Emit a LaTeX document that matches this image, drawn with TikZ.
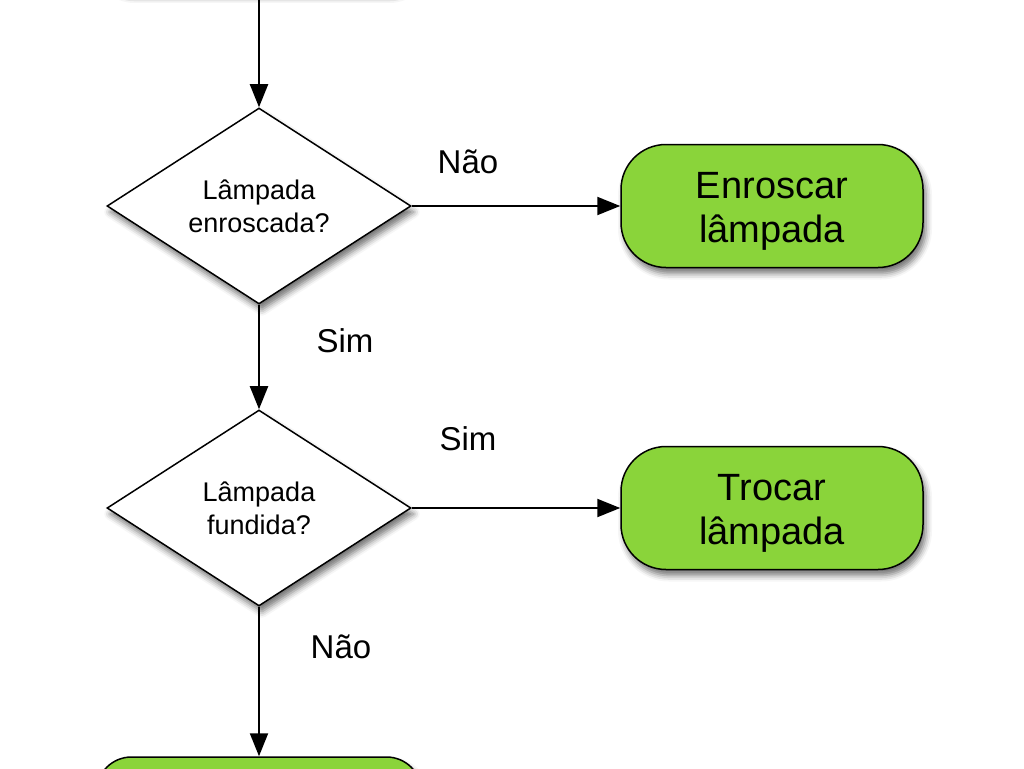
\documentclass[tikz,border=0pt]{standalone}
\usepackage{fontspec}
\setmainfont{Liberation Sans}
\usetikzlibrary{shapes.geometric,arrows.meta,shadows.blur}
\definecolor{boxgreen}{RGB}{138,212,58}
\newcommand{\twolines}[2]{\begin{tabular}{@{}c@{}}\rule{0pt}{43pt}#1\\#2\end{tabular}}
\begin{document}
\begin{tikzpicture}[x=1pt,y=-1pt,
  softshadow/.style={blur shadow={shadow xshift=3pt, shadow yshift=-6pt, shadow blur radius=6pt, shadow opacity=55}},
  decision/.style={diamond, draw, line width=1.5pt, fill=white, minimum width=304pt, minimum height=196pt, inner sep=0pt, aspect=1.55, align=center, font=\fontsize{27}{33}\selectfont, softshadow},
  action/.style={draw, line width=1.5pt, fill=boxgreen, rounded corners=45pt, minimum width=302pt, minimum height=123pt, font=\fontsize{38}{44}\selectfont, softshadow},
  conn/.style={line width=2pt, -{Triangle[length=23pt,width=18pt]}},
  lbl/.style={font=\fontsize{33}{38}\selectfont, inner sep=0pt}
]
\useasboundingbox (0,0) rectangle (1024,768);
\node[action, minimum width=325pt, minimum height=120pt, rounded corners=35pt] (top) at (259,-69) {};
\node[decision] (d1) at (259,206) {Lâmpada\\enroscada?};
\node[decision] (d2) at (259,508) {Lâmpada\\fundida?};
\node[action] (a1) at (772,206) {\twolines{Enroscar}{lâmpada}};
\node[action] (a2) at (772,508) {\twolines{Trocar}{lâmpada}};
\node[action, minimum width=325pt, minimum height=120pt, rounded corners=35pt] (bot) at (259,817) {};
\draw[conn] (top) -- (d1);
\draw[conn] (d1) -- (d2);
\draw[conn] (d2) -- (bot);
\draw[conn] (d1) -- (a1);
\draw[conn] (d2) -- (a2);
\node[lbl] (l1) at (468,162) {Não};
\node[lbl] (l2) at (345,341) {Sim};
\node[lbl] (l3) at (468,439) {Sim};
\node[lbl] (l4) at (341,647) {Não};
\end{tikzpicture}
\end{document}
